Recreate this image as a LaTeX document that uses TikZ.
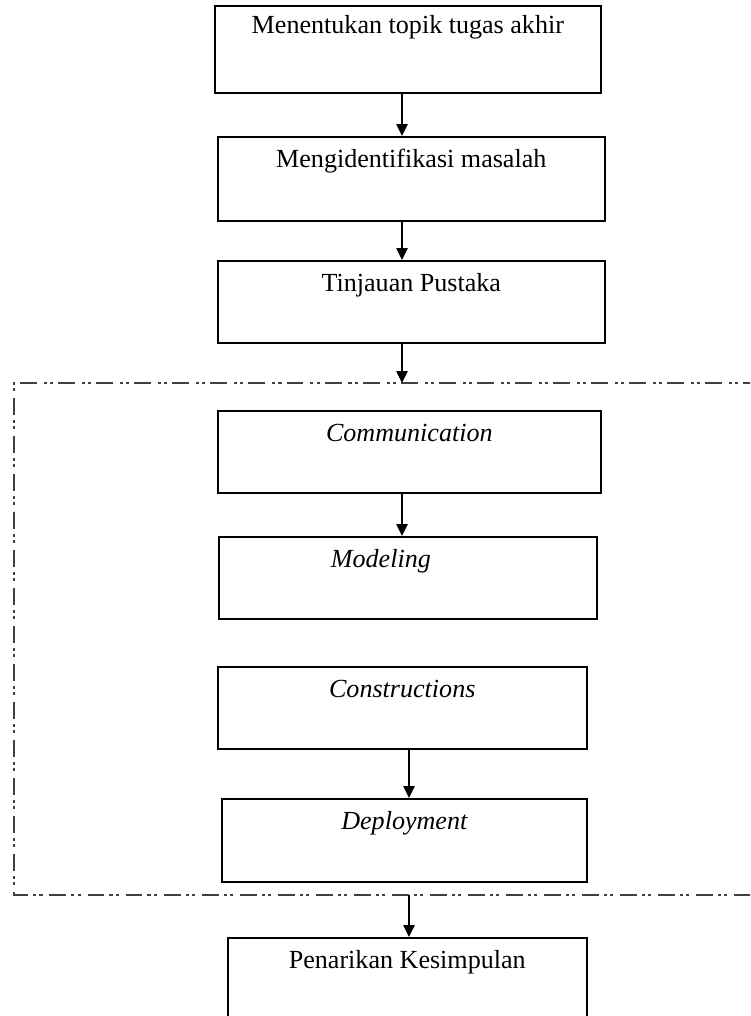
\documentclass[tikz,border=0pt]{standalone}
\usepackage{fontspec}
\setmainfont{Liberation Serif}
\usetikzlibrary{positioning,arrows.meta}

\begin{document}
\begin{tikzpicture}[
  x=0.46pt, y=-0.46pt,
  font=\fontsize{12}{14}\selectfont,
  box/.style={draw,line width=0.75pt,inner sep=0pt,anchor=north west,align=center,text height=14.3pt,text depth=23.5pt},
  a/.style={-{Triangle[length=5.5pt,width=5.2pt]},line width=0.65pt},
  frame/.style={draw=black!75,line width=0.6pt,dash pattern=on 7.8pt off 2.3pt on 1.4pt off 1.4pt on 1.4pt off 3.2pt},
]
  \useasboundingbox (0,0) rectangle (750,1016);
  \clip (0,0) rectangle (750,1016);

  \node[box,minimum width=177.6pt,text height=12.9pt,text depth=27.1pt] (m1) at (214,5) {Menentukan topik tugas akhir};
  \node[box,minimum width=178pt,text depth=24.4pt] (m2) at (217,136) {Mengidentifikasi masalah};
  \node[box,minimum width=178pt] (m3) at (217,260) {Tinjauan Pustaka};

  \node[box,minimum width=176.2pt] (c1) at (217,410) {\itshape Communication};
  \node[box,minimum width=173.9pt] (c2) at (218,536) {{\itshape Modeling}\rule{24.8pt}{0pt}};
  \node[box,minimum width=169.7pt] (c3) at (217,666) {\itshape Constructions};
  \node[box,minimum width=167.9pt,text depth=24pt] (c4) at (221,798) {\itshape Deployment};

  \node[box,minimum width=165.1pt,text depth=46pt] (k) at (227,937) {Penarikan Kesimpulan};

  \draw[frame] (760,383) -| (14,895) -- (760,895);
  \coordinate (ftop) at (402,383);
  \coordinate (fbot) at (409,895);

  \draw[a] (m1.south -| ftop) -- (m2.north -| ftop);
  \draw[a] (m2.south -| ftop) -- (m3.north -| ftop);
  \draw[a] (m3.south -| ftop) -- (ftop);
  \draw[a] (c1.south -| ftop) -- (c2.north -| ftop);
  \draw[a] (c3.south -| fbot) -- (c4.north -| fbot);
  \draw[a] (fbot) -- (k.north -| fbot);
\end{tikzpicture}
\end{document}
